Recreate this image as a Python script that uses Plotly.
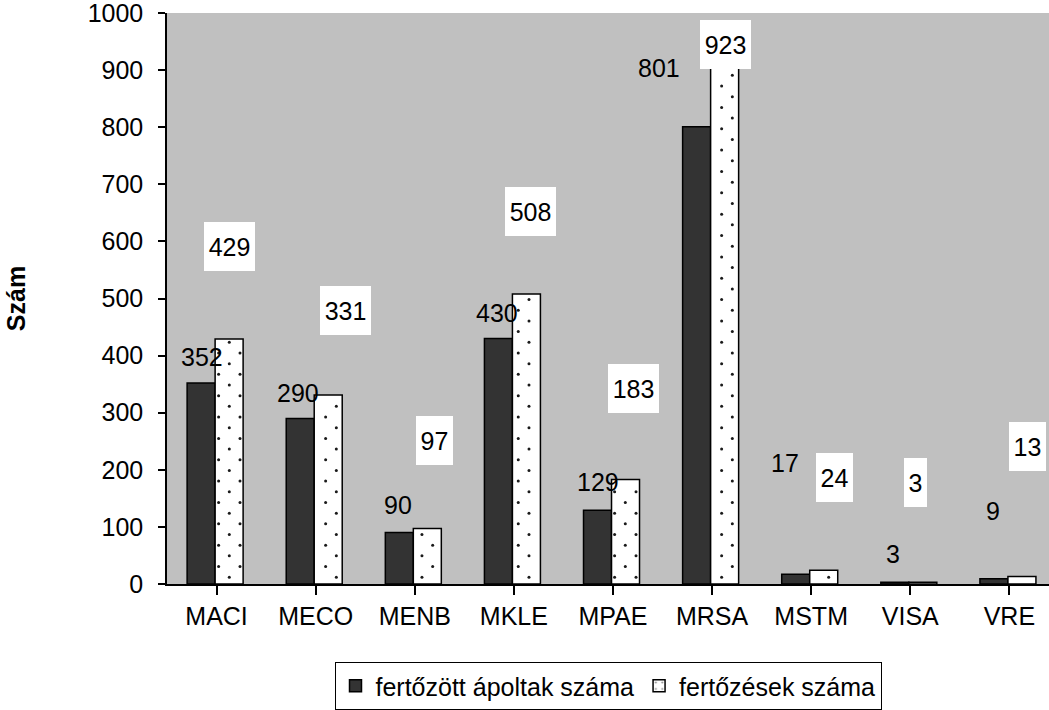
import plotly.graph_objects as go

# Pathogen codes on the category axis
categories = ["MACI", "MECO", "MENB", "MKLE", "MPAE", "MRSA", "MSTM", "VISA", "VRE"]

# Number of infected patients / number of infections per pathogen
patients = [352, 290, 90, 430, 129, 801, 17, 3, 9]
infections = [429, 331, 97, 508, 183, 923, 24, 3, 13]

series_names = ["fertőzött ápoltak száma", "fertőzések száma"]
y_ticks = [0, 100, 200, 300, 400, 500, 600, 700, 800, 900, 1000]

# Hand-placed data label offsets (x in category units from the category centre,
# y in value units above the bar top)
patient_label_dx = [-0.147, -0.178, -0.169, -0.170, -0.151, -0.535, -0.26, -0.174, -0.165]
patient_label_dy = [45, 45, 48, 45, 50, 103, 195, 50, 119]
infection_label_dx = [0.131, 0.301, 0.199, 0.163, 0.207, 0.136, 0.24, 0.053, 0.183]
infection_label_dy = [162, 148, 154, 145, 159, 21, 163, 175, 228]

FONT = "Liberation Sans, Arial, sans-serif"
FS = 25

BAR_W = 0.2826          # width of one bar, in category units
DARK_OFF = -0.297       # left edge of the dark bar relative to the category centre
LIGHT_OFF = -0.0145     # left edge of the dotted bar

# Staggered dot lattice used as the fill texture of the dotted bars
DOT_DX = 0.108          # column spacing (category units)
DOT_DY = 37.4           # row spacing within one column (value units)
DOT_X0 = 0.1287         # reference column position
DOT_Y0 = 11.9           # first row of the even columns
EDGE_X = 0.025          # keep dots off the bar outline
EDGE_Y = 4.0

fig = go.Figure()
fig.add_trace(go.Bar(
    x=list(range(len(categories))), y=patients, name=series_names[0],
    width=BAR_W, offset=DARK_OFF,
    marker=dict(color="#333333", line=dict(color="black", width=1.5)),
))
# legend entry for the dotted series
fig.add_trace(go.Bar(
    x=[None], y=[None], name=series_names[1],
    marker=dict(color="white", line=dict(color="black", width=1.5),
                pattern=dict(shape=".", fgcolor="#111111", bgcolor="white", size=8, solidity=0.08)),
))
fig.add_trace(go.Bar(
    x=list(range(len(categories))), y=infections, name=series_names[1],
    width=BAR_W, offset=LIGHT_OFF, showlegend=False,
    marker=dict(color="white", line=dict(color="black", width=1.5)),
))

# dot texture inside each dotted bar
dot_x, dot_y = [], []
for i, v in enumerate(infections):
    left = i + LIGHT_OFF + EDGE_X
    right = i + LIGHT_OFF + BAR_W - EDGE_X
    k = int((left - DOT_X0) // DOT_DX)
    while DOT_X0 + k * DOT_DX <= right:
        cx = DOT_X0 + k * DOT_DX
        if cx >= left:
            cy = DOT_Y0 + (DOT_DY / 2 if k % 2 else 0)
            while cy <= v - EDGE_Y:
                dot_x.append(cx)
                dot_y.append(cy)
                cy += DOT_DY
        k += 1
fig.add_trace(go.Scatter(
    x=dot_x, y=dot_y, mode="markers", showlegend=False, hoverinfo="skip",
    marker=dict(size=3, color="#1a1a1a", line=dict(width=0)),
))

annotations = []
for i, v in enumerate(patients):
    annotations.append(dict(
        x=i + patient_label_dx[i], y=v + patient_label_dy[i], xref="x", yref="y",
        text=str(v), showarrow=False, font=dict(family=FONT, size=FS, color="black"),
        xanchor="center", yanchor="middle",
    ))
for i, v in enumerate(infections):
    n = len(str(v))
    annotations.append(dict(
        x=i + infection_label_dx[i], y=v + infection_label_dy[i], xref="x", yref="y",
        text=str(v), showarrow=False, font=dict(family=FONT, size=FS, color="black"),
        xanchor="center", yanchor="middle", bgcolor="white",
        width=14 * n + 9, height=49, borderpad=0, borderwidth=0,
    ))

fig.update_layout(
    width=1049, height=710,
    margin=dict(l=167, r=0, t=13, b=126),
    paper_bgcolor="white", plot_bgcolor="#C0C0C0",
    barmode="overlay",
    font=dict(family=FONT, size=FS, color="black"),
    showlegend=True,
    legend=dict(
        orientation="h", x=0.5, xanchor="center", y=-0.137, yanchor="top",
        bordercolor="black", borderwidth=1, bgcolor="white",
        font=dict(family=FONT, size=FS, color="black"),
        itemwidth=30, tracegroupgap=0, traceorder="normal",
    ),
    annotations=annotations,
)
fig.update_xaxes(
    range=[-0.5, 8.4], tickmode="array", tickvals=list(range(len(categories))),
    ticktext=categories, tickson="boundaries", ticks="outside", ticklen=9,
    tickcolor="black", tickwidth=1.5, showline=True, linecolor="black", linewidth=1.5,
    showgrid=False, zeroline=False, tickfont=dict(family=FONT, size=FS),
)
fig.update_yaxes(
    range=[0, 1000.01], tickvals=y_ticks, ticks="outside", ticklen=7,
    tickcolor="black", tickwidth=1.5, showline=True, linecolor="black", linewidth=1.5,
    showgrid=False, zeroline=False, tickfont=dict(family=FONT, size=FS),
    ticklabelstandoff=10, ticklabeloverflow="allow",
    title=dict(text="<b>Szám</b>", font=dict(family=FONT, size=FS), standoff=55),
)

fig.write_html("out.html")
